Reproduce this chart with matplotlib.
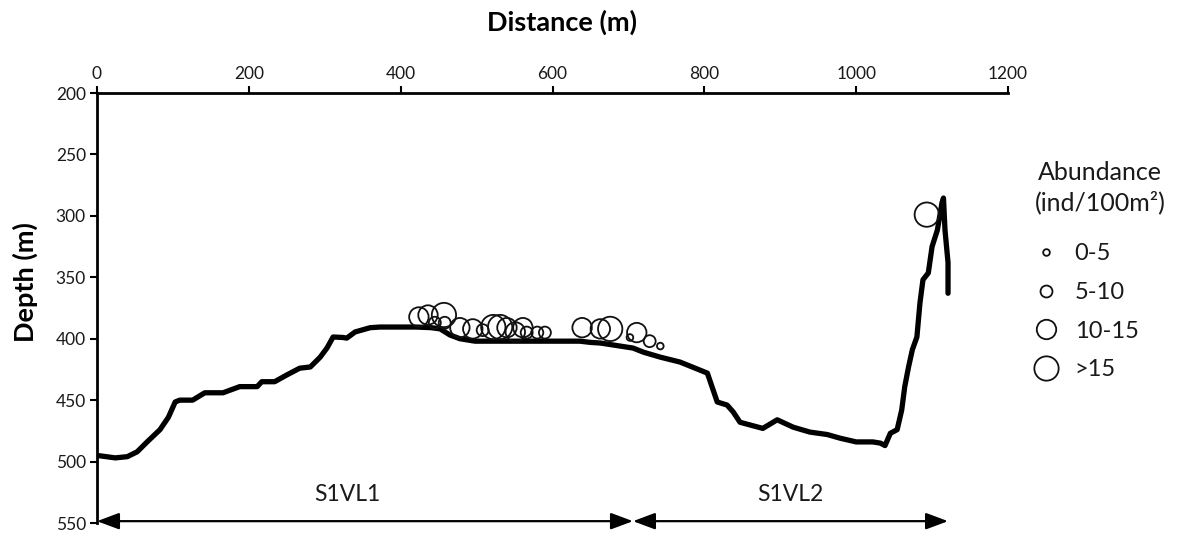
import matplotlib
matplotlib.use("Agg")
import matplotlib.pyplot as plt
from matplotlib.lines import Line2D

plt.rcParams['font.family'] = ['Lato', 'DejaVu Sans']

# Seafloor profile (distance m, depth m)
profile_dist = [0, 24, 40, 53, 66, 83, 94, 103, 109, 126, 142, 166, 188, 211, 217, 234,
                250, 267, 281, 294, 303, 311, 324, 329, 340, 360, 373, 420, 440, 452,
                465, 478, 498, 560, 636, 650, 663, 706, 720, 742, 768, 794, 804, 817,
                830, 838, 847, 877, 896, 917, 939, 962, 979, 1000, 1022, 1032, 1038,
                1045, 1054, 1060, 1064, 1069, 1074, 1080, 1084, 1088, 1095, 1100, 1107,
                1113, 1115, 1117, 1121, 1121]
profile_depth = [495, 497, 496, 492, 484, 474, 464, 451.5, 450, 450, 444, 444, 439, 439,
                 435, 435, 429.5, 424, 423, 415, 407.5, 398.6, 399, 399.5, 394.5, 391,
                 390.5, 390.5, 391, 392, 397, 400, 402, 402, 402, 403, 403.5, 407.6, 411,
                 415, 419, 425.5, 428, 451.5, 454, 459.6, 468, 473, 466, 472, 476, 478,
                 481, 484, 484, 485, 487, 477, 474, 458, 439, 423, 409, 398.6, 371, 352,
                 346.5, 325, 311.5, 289.5, 285.5, 311.5, 338, 363]

# Abundance observations (distance m, depth m, class index 0..3)
obs_dist = [424, 436, 457, 445, 458, 478, 495, 508, 522, 531, 540, 551, 561, 566, 580,
            590, 639, 663, 676, 711, 702, 728, 742, 1093]
obs_depth = [382.3, 380.7, 380.7, 387, 387, 391, 392, 393, 390.5, 390.5, 391, 394.5, 391,
             395, 395, 395, 391, 392, 392, 395, 399, 402, 406, 299]
obs_class = [2, 2, 3, 1, 1, 2, 2, 1, 3, 3, 2, 2, 2, 1, 1, 1, 2, 2, 3, 2, 0, 1, 0, 3]

class_labels = ['0-5', '5-10', '10-15', '>15']
class_msize = [4.8, 8.6, 14.0, 17.5]  # marker diameter in points

x_ticks = [0, 200, 400, 600, 800, 1000, 1200]
y_ticks = [200, 250, 300, 350, 400, 450, 500, 550]

transect_names = ['S1VL1', 'S1VL2']
transect_start = [0, 706]
transect_end = [706, 1121]
transect_label_x = [330, 913]
transect_depth = 548.5
label_depth = 535

fig = plt.figure(figsize=(11.77, 5.40), dpi=100)
ax = fig.add_axes([97 / 1177, 1 - 523 / 540, 911 / 1177, 430 / 540])

ax.plot(profile_dist, profile_depth, color='black', lw=3.8,
        solid_joinstyle='round', solid_capstyle='round', zorder=3)

sizes = [class_msize[c] ** 2 for c in obs_class]
ax.scatter(obs_dist, obs_depth, s=sizes, facecolors='none', edgecolors='#111111',
           linewidths=1.3, zorder=4)

ax.set_xlim(0, 1200)
ax.set_ylim(550, 200)
ax.set_xticks(x_ticks)
ax.set_yticks(y_ticks)
ax.xaxis.tick_top()
ax.tick_params(axis='both', direction='out', length=5, width=1.5,
               labelsize=12.5, colors='black', labelcolor='#1a1a1a', pad=3)
ax.tick_params(axis='x', pad=3)
for s in ['right', 'bottom']:
    ax.spines[s].set_visible(False)
for s in ['left', 'top']:
    ax.spines[s].set_linewidth(2.0)

for name, x0, x1, xl in zip(transect_names, transect_start, transect_end, transect_label_x):
    ax.annotate('', xy=(x1, transect_depth), xytext=(x0, transect_depth),
                arrowprops=dict(arrowstyle='<|-|>,head_length=0.75,head_width=0.28',
                                mutation_scale=18, lw=1.6, color='black',
                                shrinkA=0, shrinkB=0),
                annotation_clip=False)
    ax.text(xl, label_depth, name, ha='center', va='bottom',
            fontsize=16.5, color='#1a1a1a')

fig.text(562 / 1177, 1 - 22 / 540, 'Distance (m)', ha='center', va='center',
         fontsize=19.5, fontweight='bold')
fig.text(25 / 1177, 1 - 282 / 540, 'Depth (m)', ha='center', va='center',
         rotation=90, fontsize=19.5, fontweight='bold')

handles = [Line2D([], [], ls='none', marker='o', markersize=ms, markerfacecolor='none',
                  markeredgecolor='#111111', markeredgewidth=1.3)
           for ms in class_msize]
leg = ax.legend(handles, class_labels, title='Abundance\n(ind/100m²)',
                loc='upper left', bbox_to_anchor=(1025 / 1177, 1 - 152 / 540),
                bbox_transform=fig.transFigure, frameon=False, fontsize=17,
                title_fontsize=18, labelspacing=0.75, handletextpad=0.7,
                handlelength=1.0, borderaxespad=0, alignment='left')
leg.get_title().set_color('#1a1a1a')
leg.get_title().set_linespacing(1.3)
leg.get_title().set_multialignment('center')
leg._legend_box.sep = 21
for t in leg.get_texts():
    t.set_color('#1a1a1a')

fig.savefig('out.png', dpi=100)
